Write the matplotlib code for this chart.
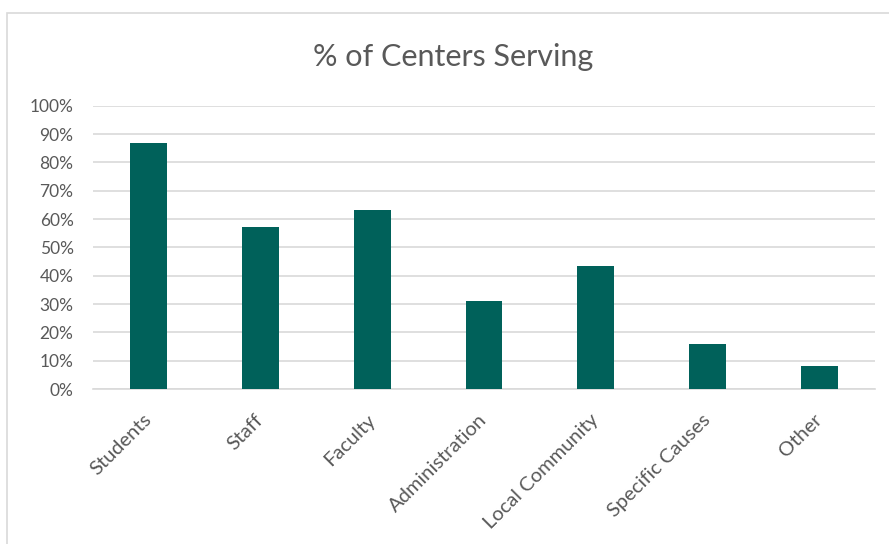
import matplotlib.pyplot as plt
from matplotlib.patches import Rectangle
from matplotlib.ticker import PercentFormatter
from matplotlib.transforms import ScaledTranslation

# data
categories = ['Students', 'Staff', 'Faculty', 'Administration',
              'Local Community', 'Specific Causes', 'Other']
values = [0.87, 0.573, 0.632, 0.312, 0.434, 0.16, 0.08]
yticks = [0, 0.1, 0.2, 0.3, 0.4, 0.5, 0.6, 0.7, 0.8, 0.9, 1.0]

plt.rcParams['font.family'] = ['Lato', 'DejaVu Sans']
grey = '#595959'

fig = plt.figure(figsize=(8.89, 5.44), dpi=100)
W, H = 889, 544

# chart border (runs off right and bottom edge)
fig.patches.append(Rectangle((7 / W, -0.05), 1.0, 1 - 13 / H + 0.05,
                             transform=fig.transFigure, fill=False,
                             edgecolor='#d9d9d9', linewidth=1.2))

ax = fig.add_axes([93 / W, 1 - 389 / H, (875 - 93) / W, (389 - 105.7) / H])
ax.bar(range(len(categories)), values, width=0.33, color='#00615A', zorder=3)

ax.set_xlim(-0.5, len(categories) - 0.5)
ax.set_ylim(0, 1.0)
ax.set_yticks(yticks)
ax.yaxis.set_major_formatter(PercentFormatter(1.0, decimals=0))
ax.grid(axis='y', color='#d9d9d9', linewidth=1.2, zorder=0)

for s in ['top', 'right', 'left']:
    ax.spines[s].set_visible(False)
ax.spines['bottom'].set_color('#d9d9d9')
ax.spines['bottom'].set_linewidth(1.2)

ax.tick_params(axis='y', length=0, pad=14, labelsize=12.5, labelcolor=grey)
ax.tick_params(axis='x', length=0, pad=16, labelsize=14.5, labelcolor=grey)
ax.set_xticks(range(len(categories)))
ax.set_xticklabels(categories, rotation=45, ha='right', va='top',
                   rotation_mode='anchor')
shift = ScaledTranslation(-6 / 100, 0, fig.dpi_scale_trans)
for lbl in ax.get_xticklabels():
    lbl.set_transform(lbl.get_transform() + shift)

fig.text(453 / W, 1 - 57 / H, '% of Centers Serving', ha='center', va='center',
         fontsize=22, color=grey)

fig.savefig('out.png', dpi=100)
